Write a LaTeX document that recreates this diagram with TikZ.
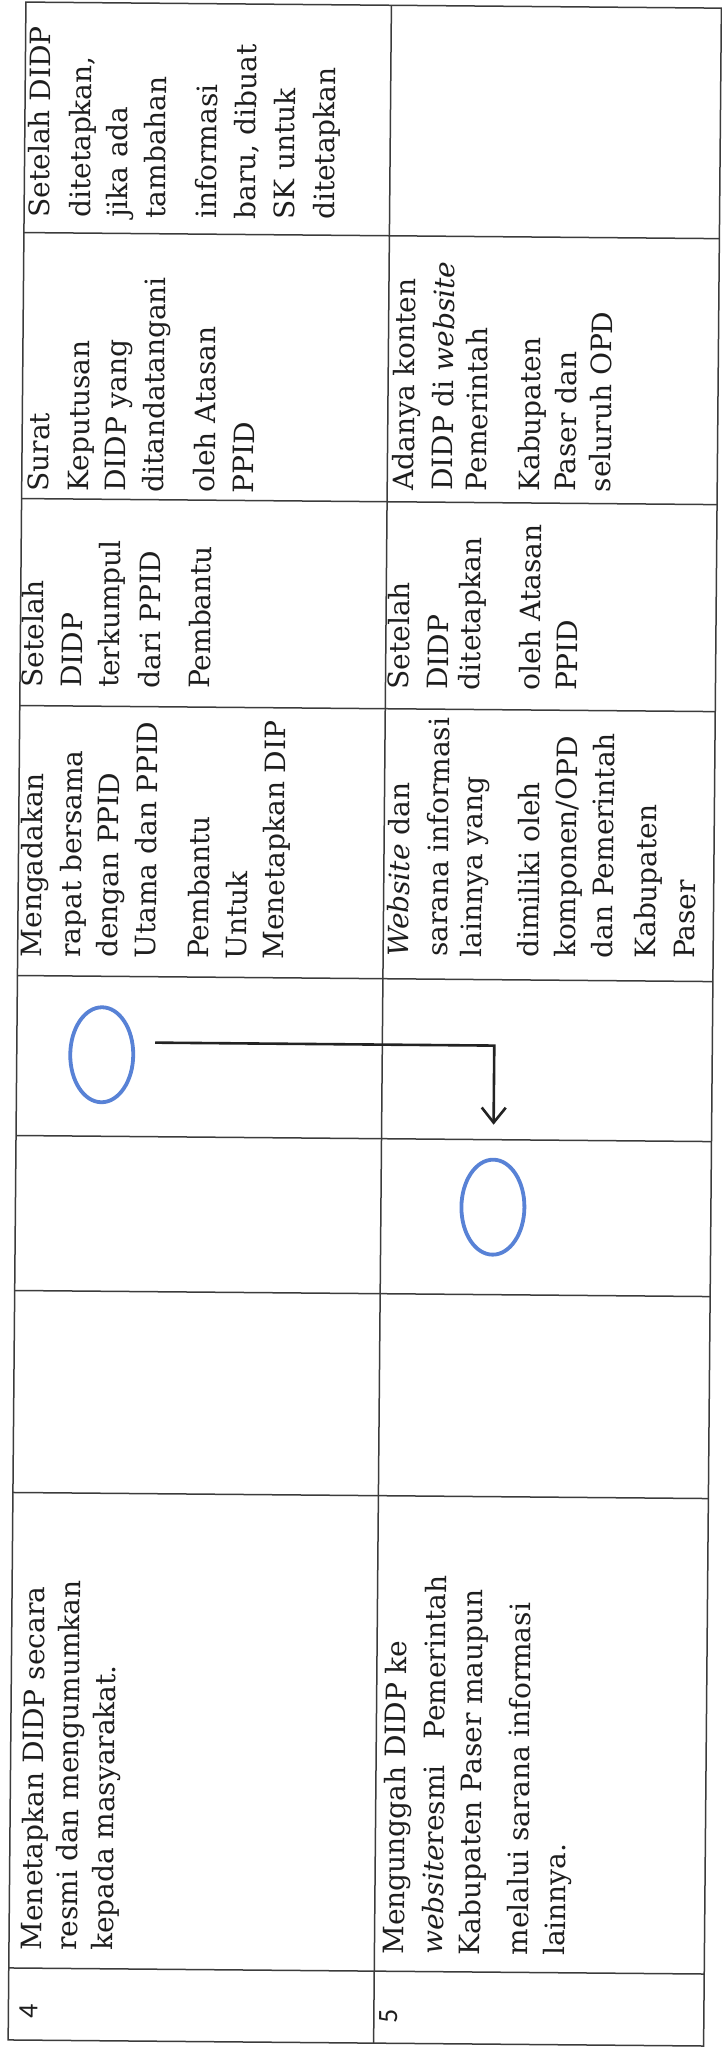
\documentclass[tikz,border=0pt]{standalone}
\usepackage{fontspec}
\setmainfont{DejaVu Serif}
\newfontfamily\numfnt{Carlito}
\usetikzlibrary{shapes.geometric,arrows.meta}
\definecolor{linecol}{RGB}{60,60,60}
\definecolor{textcol}{RGB}{30,30,30}
\definecolor{bluecol}{RGB}{88,130,214}
\definecolor{arrowcol}{RGB}{35,35,35}
\newcommand\tln[4]{\node[txt] (#1) at (#2,#3) {#4};}
\begin{document}
\begin{tikzpicture}[x=1pt,y=-1pt,
  gridline/.style={draw=linecol,line width=1.5pt},
  txt/.style={rotate=90,anchor=base west,inner sep=0pt,outer sep=0pt,text=textcol,font=\fontsize{28}{34}\selectfont},
  numtxt/.style={rotate=90,anchor=center,inner sep=0pt,text=textcol,font=\numfnt\fontsize{28}{34}\selectfont},
  circ/.style={ellipse,draw=bluecol,line width=3.8pt,minimum width=63pt,minimum height=95pt,inner sep=0pt},
  flow/.style={draw=arrowcol,line width=2.6pt,-{Straight Barb[length=15pt,width=24pt]}}]
\fill[white] (0,0) rectangle (721,2051);
\useasboundingbox (0,0) rectangle (721,2051);
\begin{scope}[rotate around={-0.5:(360.5,1025.5)},transform shape]
% table grid
\draw[gridline] (17,5) rectangle (712.5,2043);
\draw[gridline] (382.5,5) -- (382.5,2043);
\foreach \yy in {235.5,501.5,708.5,978.5,1138.5,1293.5,1495.5,1971}
  \draw[gridline] (17,\yy) -- (712.5,\yy);
% row 4, column A
\tln{a1}{42}{220}{Setelah DIDP}
\tln{a2}{83}{220}{ditetapkan,}
\tln{a3}{120}{220}{jika ada}
\tln{a4}{158}{220}{tambahan}
\tln{a5}{209}{220}{informasi}
\tln{a6}{248}{220}{baru, dibuat}
\tln{a7}{287}{220}{SK untuk}
\tln{a8}{327}{220}{ditetapkan}
% row 4, column B
\tln{b1}{44}{494}{Surat}
\tln{b2}{84}{494}{Keputusan}
\tln{b3}{121}{494}{DIDP yang}
\tln{b4}{159}{494}{ditandatangani}
\tln{b5}{210}{494}{oleh Atasan}
\tln{b6}{249}{494}{PPID}
% row 4, column C
\tln{c1t}{40}{690}{Setelah}
\tln{c2t}{79}{690}{DIDP}
\tln{c3t}{116}{690}{terkumpul}
\tln{c4t}{157}{690}{dari PPID}
\tln{c5t}{207}{690}{Pembantu}
% row 4, column D
\tln{d1}{41}{960}{Mengadakan}
\tln{d2}{80}{960}{rapat bersama}
\tln{d3}{117}{960}{dengan PPID}
\tln{d4}{155}{960}{Utama dan PPID}
\tln{d5}{208}{960}{Pembantu}
\tln{d6}{246}{960}{Untuk}
\tln{d7}{283}{960}{Menetapkan DIP}
% row 4, activity
\tln{h1}{50}{1953}{Menetapkan DIDP secara}
\tln{h2}{85}{1953}{resmi dan mengumumkan}
\tln{h3}{121}{1953}{kepada masyarakat.}
% row 5, column B
\tln{e1}{409}{490}{Adanya konten}
\tln{e2}{448}{490}{DIDP di \textit{website}}
\tln{e3}{482}{490}{Pemerintah}
\tln{e4}{535}{490}{Kabupaten}
\tln{e5}{571}{490}{Paser dan}
\tln{e6}{606}{490}{seluruh OPD}
% row 5, column C
\tln{f1}{406}{689}{Setelah}
\tln{f2}{445}{689}{DIDP}
\tln{f3}{477}{689}{ditetapkan}
\tln{f4}{537}{689}{oleh Atasan}
\tln{f5}{574}{689}{PPID}
% row 5, column D
\tln{g1}{408}{956}{\textit{Website} dan}
\tln{g2}{447}{956}{sarana informasi}
\tln{g3}{481}{956}{lainnya yang}
\tln{g4}{538}{956}{dimiliki oleh}
\tln{g5}{575}{956}{komponen/OPD}
\tln{g6}{612}{956}{dan Pemerintah}
\tln{g7}{655}{956}{Kabupaten}
\tln{g8}{694}{956}{Paser}
% row 5, activity
\tln{k1}{412}{1954}{Mengunggah DIDP ke}
\tln{k2}{451}{1954}{\textit{website}resmi\hspace{26pt}Pemerintah}
\tln{k3}{488}{1954}{Kabupaten Paser maupun}
\tln{k4}{536}{1954}{melalui sarana informasi}
\tln{k5}{573}{1954}{lainnya.}
% numbers
\node[numtxt] (n4) at (37,2014) {4};
\node[numtxt] (n5) at (397,2016) {5};
% flow symbols
\node[circ] (c1) at (102,1057) {};
\node[circ] (c2) at (494.5,1206) {};
\draw[flow,shorten <=20pt,shorten >=33pt] ([yshift=12.5pt]c1.east) -| (c2.north);
\end{scope}
\end{tikzpicture}
\end{document}
